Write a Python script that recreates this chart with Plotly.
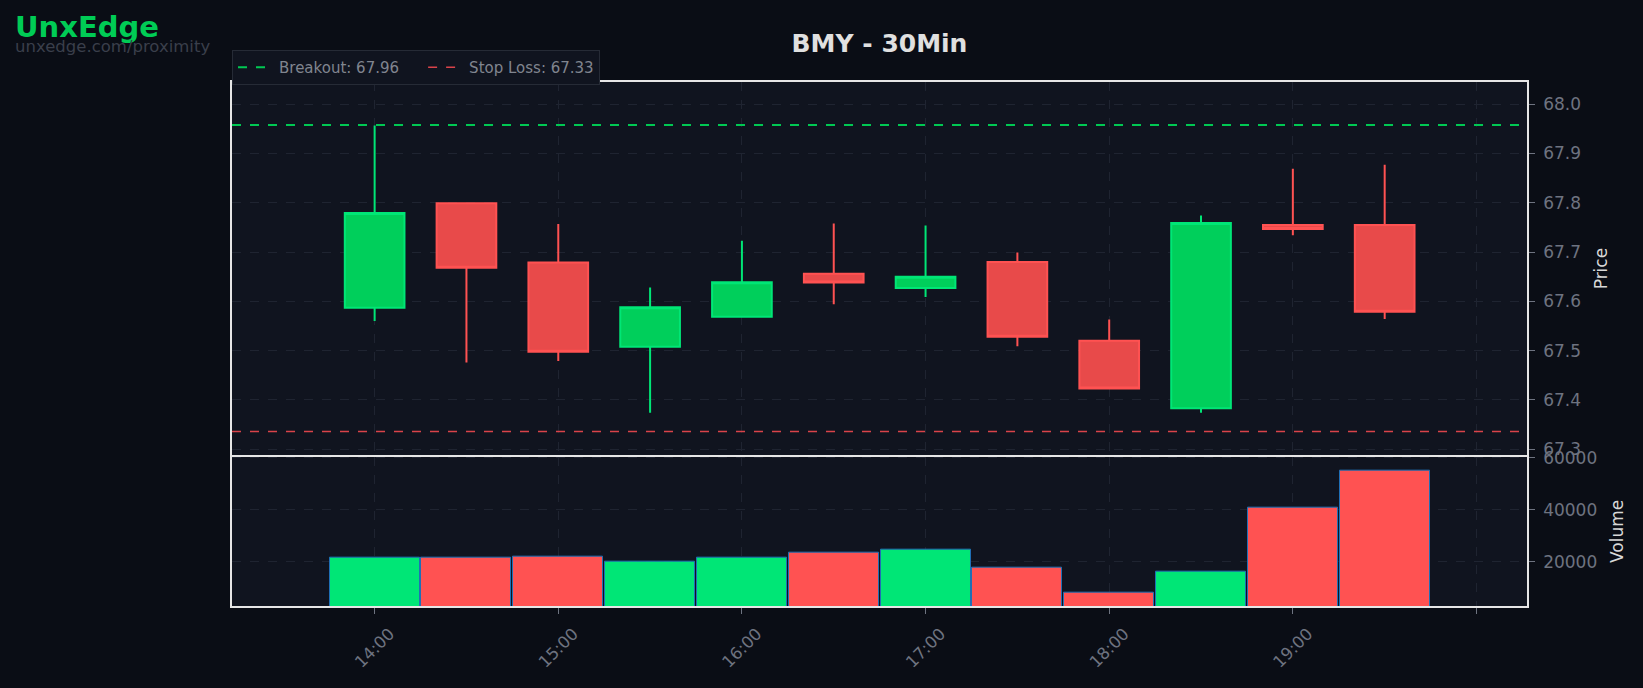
import plotly.graph_objects as go

# ---------------- data ----------------
times = ["2024-05-10 14:00", "2024-05-10 14:30", "2024-05-10 15:00", "2024-05-10 15:30",
         "2024-05-10 16:00", "2024-05-10 16:30", "2024-05-10 17:00", "2024-05-10 17:30",
         "2024-05-10 18:00", "2024-05-10 18:30", "2024-05-10 19:00", "2024-05-10 19:30"]
opens  = [67.587, 67.799, 67.679, 67.508, 67.569, 67.656, 67.627, 67.680, 67.520, 67.383, 67.755, 67.755]
highs  = [67.957, 67.800, 67.757, 67.628, 67.723, 67.758, 67.754, 67.699, 67.563, 67.774, 67.869, 67.877]
lows   = [67.560, 67.476, 67.479, 67.374, 67.569, 67.594, 67.609, 67.509, 67.423, 67.374, 67.734, 67.564]
closes = [67.779, 67.668, 67.498, 67.588, 67.639, 67.638, 67.650, 67.528, 67.423, 67.759, 67.747, 67.579]
volumes = [21700, 21700, 22100, 20150, 21700, 23650, 24500, 17850, 8150, 16300, 40650, 55000]

breakout = 67.958
breakout_label = "67.96"
stop_loss = 67.336
stop_loss_label = "67.33"

tick_times = ["2024-05-10 14:00", "2024-05-10 15:00", "2024-05-10 16:00", "2024-05-10 17:00",
              "2024-05-10 18:00", "2024-05-10 19:00", "2024-05-10 20:00"]
tick_text = ["14:00", "15:00", "16:00", "17:00", "18:00", "19:00", ""]
x_range = ["2024-05-10 13:13:24", "2024-05-10 20:16:30"]
price_range = [67.288, 68.045]
volume_range = [2900, 60500]
volume_ticks = [20000, 40000, 60000]

# ---------------- style ----------------
FONT = "DejaVu Sans"
PAPER = "#0a0d15"
PLOT = "#10141f"
GRID = "#1f2431"
TICK = "#6e7380"
GREEN_LINE = "#00e676"
GREEN_FILL = "#00cf5b"
RED_LINE = "#ff5252"
RED_FILL = "#e84a4a"
NBSP = "\u00a0"

vol_colors = [GREEN_LINE if c >= o else RED_LINE for o, c in zip(opens, closes)]

fig = go.Figure()

fig.add_trace(go.Candlestick(
    x=times, open=opens, high=highs, low=lows, close=closes,
    increasing=dict(line=dict(color=GREEN_LINE, width=2), fillcolor=GREEN_FILL),
    decreasing=dict(line=dict(color=RED_LINE, width=2), fillcolor=RED_FILL),
    whiskerwidth=0, showlegend=False, xaxis="x", yaxis="y", name="BMY",
))

fig.add_trace(go.Scatter(
    x=[None], y=[None], mode="lines", name=f"Breakout: {breakout_label}" + NBSP * 4,
    line=dict(color="#00c853", width=2, dash="dash"), xaxis="x", yaxis="y",
))
fig.add_trace(go.Scatter(
    x=[None], y=[None], mode="lines", name=f"Stop Loss: {stop_loss_label}",
    line=dict(color="#d9434a", width=1.5, dash="dash"), xaxis="x", yaxis="y",
))

fig.add_shape(type="line", xref="x domain", yref="y", x0=0, x1=1, y0=breakout, y1=breakout,
              line=dict(color="#00c853", width=2, dash="dash"))
fig.add_shape(type="line", xref="x domain", yref="y", x0=0, x1=1, y0=stop_loss, y1=stop_loss,
              line=dict(color="#d9434a", width=1.5, dash="dash"))

fig.add_trace(go.Bar(
    x=times, y=volumes, width=[1764000] * len(times),
    marker=dict(color=vol_colors, line=dict(color="#1f6fb5", width=1)),
    showlegend=False, xaxis="x2", yaxis="y2", name="Volume",
))

axis_common = dict(
    showgrid=True, gridcolor=GRID, griddash="dash", gridwidth=1,
    showline=True, linecolor="#e6e6e6", linewidth=1.5, mirror=True,
    zeroline=False,
)

fig.update_layout(
    width=1643, height=688,
    paper_bgcolor=PAPER, plot_bgcolor=PLOT,
    margin=dict(l=232, r=116, t=82, b=82),
    font=dict(family=FONT, color=TICK),
    title=dict(text="<b>BMY - 30Min</b>", x=0.5, xref="paper", xanchor="center",
               y=1 - 43 / 688, yanchor="middle",
               font=dict(family=FONT, size=25, color="#e0e0e0")),
    showlegend=True,
    legend=dict(orientation="h", x=0, xanchor="left", y=1.061, yanchor="top",
                bgcolor=PLOT, bordercolor="#262b36", borderwidth=1,
                itemwidth=36,
                font=dict(family=FONT, size=15, color="#80858f")),
    xaxis=dict(domain=[0, 1], anchor="y", range=x_range, type="date",
               tickvals=tick_times, ticktext=tick_text, showticklabels=False,
               rangeslider=dict(visible=False), ticks="", **axis_common),
    xaxis2=dict(domain=[0, 1], anchor="y2", range=x_range, type="date", matches="x",
                tickvals=tick_times, ticktext=tick_text, tickangle=-45,
                ticks="outside", ticklen=6, tickcolor=TICK,
                ticklabelshift=15, ticklabelstandoff=4,
                tickfont=dict(family=FONT, size=16.5, color=TICK), **axis_common),
    yaxis=dict(domain=[0.2879, 1], anchor="x", side="right", range=price_range,
               dtick=0.1, tick0=67.0, tickformat=".1f",
               ticks="outside", ticklen=6, tickcolor=TICK, ticklabelstandoff=5,
               tickfont=dict(family=FONT, size=17, color=TICK),
               title=dict(text="Price", font=dict(family=FONT, size=17, color="#d8d8d8")),
               **axis_common),
    yaxis2=dict(domain=[0, 0.285], anchor="x2", side="right", range=volume_range,
                tickvals=volume_ticks, tickformat="d",
                ticks="outside", ticklen=6, tickcolor=TICK, ticklabelstandoff=5,
                tickfont=dict(family=FONT, size=17, color=TICK),
                title=dict(text="Volume", font=dict(family=FONT, size=17, color="#d8d8d8")),
                **axis_common),
    annotations=[
        dict(text="<b>UnxEdge</b>", xref="paper", yref="paper",
             x=(12.5 - 232) / 1295, y=(606 - 27) / 524, xanchor="left", yanchor="middle",
             showarrow=False, font=dict(family=FONT, size=29, color="#00cc55")),
        dict(text="unxedge.com/proximity", xref="paper", yref="paper",
             x=(12.5 - 232) / 1295, y=(606 - 46) / 524, xanchor="left", yanchor="middle",
             showarrow=False, font=dict(family=FONT, size=16.5, color="#3a3f4b")),
    ],
    bargap=0,
    boxgap=0.35,
    boxgroupgap=0,
)

fig.write_html("out.html", config={"displayModeBar": False},
               post_script="document.body.style.margin='0';document.body.style.overflow='hidden';")
